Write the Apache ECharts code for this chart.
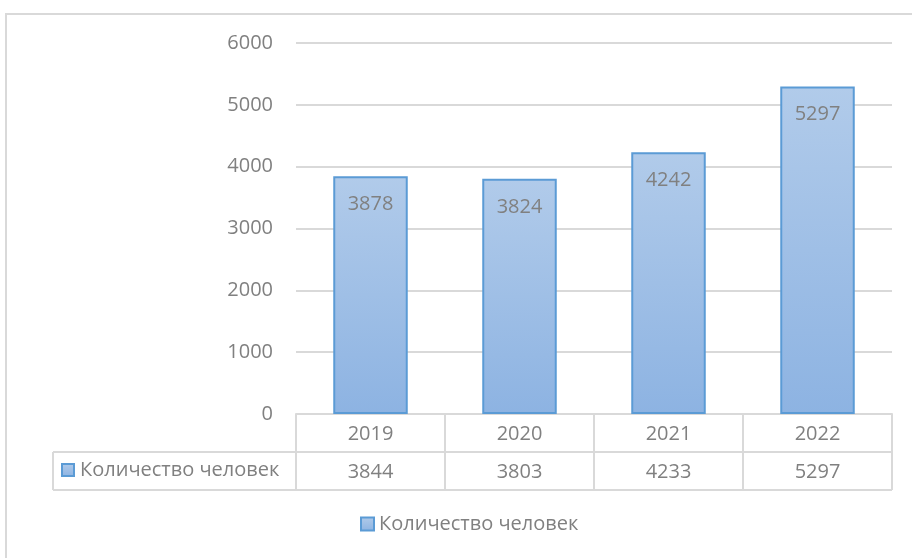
<!DOCTYPE html>
<html>
<head>
<meta charset="utf-8">
<script src="https://cdn.jsdelivr.net/npm/echarts@6/dist/echarts.min.js"></script>
<style>
  html, body { margin: 0; padding: 0; background: #fff; }
  #main { width: 912px; height: 558px; }
</style>
</head>
<body>
<div id="main"></div>
<script>
// данные
const years = ['2019', '2020', '2021', '2022'];
const seriesName = 'Количество человек';
// значения из таблицы данных (высота столбцов)
const tableValues = [3844, 3803, 4233, 5297];
// подписи на столбцах
const barLabels = ['3878', '3824', '4242', '5297'];
const yTicks = [0, 1000, 2000, 3000, 4000, 5000, 6000];

const font = '"Open Sans", sans-serif';
const fontSize = 20;
const textColor = '#808080';
const lineColor = '#d9d9d9';

// размеры сетки
const gLeft = 296, gRight = 892, gTop = 43, gBottom = 414;
const rowH = 38;
const tableLeft = 53;

const chart = echarts.init(document.getElementById('main'));

// линии таблицы данных
const tableLines = [];
const colW = (gRight - gLeft) / years.length;
for (let i = 0; i <= years.length; i++) {
  const x = gLeft + colW * i;
  tableLines.push({ type: 'line', shape: { x1: x, y1: gBottom, x2: x, y2: gBottom + rowH * 2 } });
}
tableLines.push({ type: 'line', shape: { x1: tableLeft, y1: gBottom + rowH, x2: gRight, y2: gBottom + rowH } });
tableLines.push({ type: 'line', shape: { x1: tableLeft, y1: gBottom + rowH * 2, x2: gRight, y2: gBottom + rowH * 2 } });
tableLines.push({ type: 'line', shape: { x1: tableLeft, y1: gBottom + rowH, x2: tableLeft, y2: gBottom + rowH * 2 } });
tableLines.forEach((l) => { l.style = { stroke: lineColor, lineWidth: 2 }; l.silent = true; });

const barFill = new echarts.graphic.LinearGradient(0, 0, 0, 1, [
  { offset: 0, color: '#b1cbea' },
  { offset: 1, color: '#8db3e2' }
]);

chart.setOption({
  animation: false,
  grid: {
    left: gLeft,
    right: 912 - gRight,
    top: gTop,
    bottom: 558 - gBottom
  },
  legend: {
    left: 355,
    top: 509,
    itemWidth: 13,
    itemHeight: 13,
    itemGap: 5,
    icon: 'rect',
    textStyle: { fontFamily: font, fontSize: fontSize, color: textColor, padding: [0, 0, 0, 0] },
    data: [seriesName]
  },
  xAxis: [
    {
      type: 'category',
      data: years,
      axisLine: { show: true, lineStyle: { color: lineColor, width: 2 } },
      axisTick: { show: false },
      axisLabel: { fontFamily: font, fontSize: fontSize, color: textColor, margin: 10 }
    },
    {
      type: 'category',
      position: 'bottom',
      offset: rowH,
      data: tableValues.map(String),
      axisLine: { show: false },
      axisTick: { show: false },
      axisLabel: { fontFamily: font, fontSize: fontSize, color: textColor, margin: 10 }
    }
  ],
  yAxis: {
    type: 'value',
    min: yTicks[0],
    max: yTicks[yTicks.length - 1],
    interval: 1000,
    axisLine: { show: false },
    axisTick: { show: false },
    axisLabel: {
      fontFamily: font,
      fontSize: fontSize,
      color: textColor,
      margin: 23,
      formatter: (v) => String(v)
    },
    splitLine: { lineStyle: { color: lineColor, width: 2 } }
  },
  series: [
    {
      name: seriesName,
      type: 'bar',
      barWidth: '50%',
      data: tableValues,
      itemStyle: {
        color: barFill,
        borderColor: '#5b9bd5',
        borderWidth: 2
      },
      label: {
        show: true,
        position: 'insideTop',
        distance: 18,
        fontFamily: font,
        fontSize: fontSize,
        color: textColor,
        formatter: (p) => barLabels[p.dataIndex]
      }
    }
  ],
  graphic: [
    {
      type: 'rect',
      silent: true,
      shape: { x: 6, y: 14, width: 940, height: 570 },
      style: { fill: 'none', stroke: lineColor, lineWidth: 2 }
    },
    ...tableLines,
    {
      type: 'rect',
      silent: true,
      shape: { x: 62, y: 464, width: 12, height: 12 },
      style: { fill: barFill, stroke: '#5b9bd5', lineWidth: 2 }
    },
    {
      type: 'text',
      silent: true,
      left: 80,
      top: 460,
      style: { text: seriesName, fontFamily: font, fontSize: fontSize, fill: textColor }
    }
  ]
});

window.addEventListener('resize', () => chart.resize());
</script>
</body>
</html>
